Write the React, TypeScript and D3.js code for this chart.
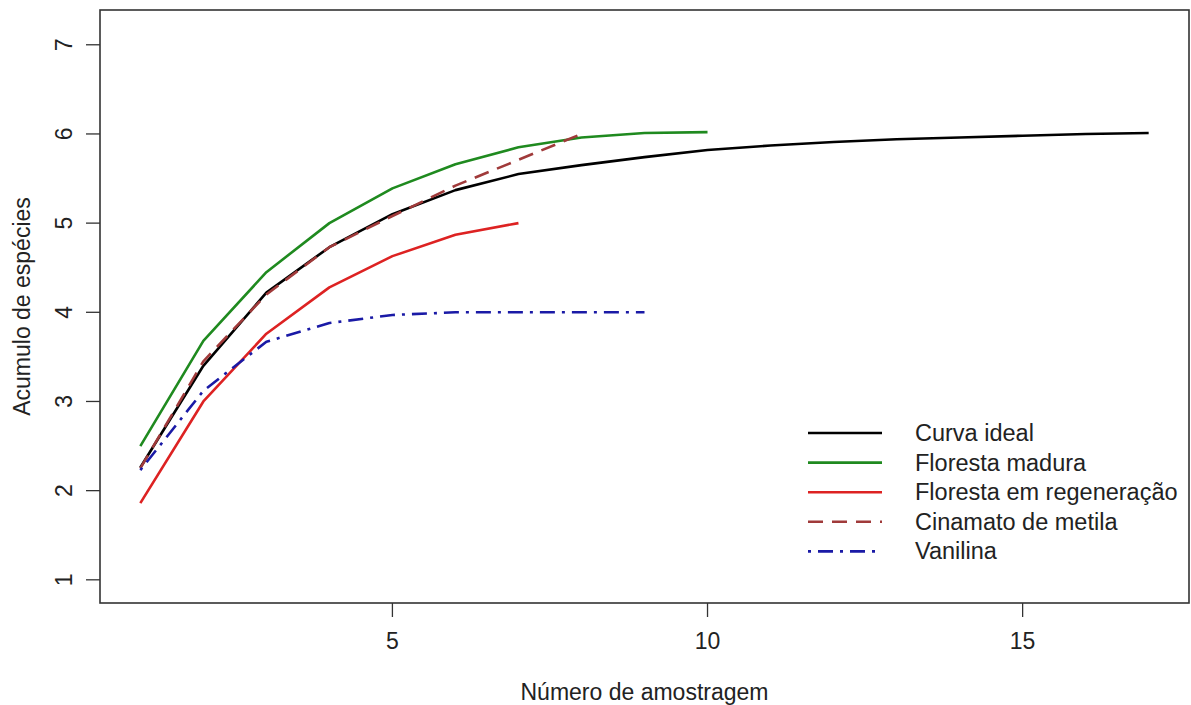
import * as d3 from 'd3';

// Data
const amostras = [1, 2, 3, 4, 5, 6, 7, 8, 9, 10, 11, 12, 13, 14, 15, 16, 17];
const curvaIdeal = [2.26, 3.40, 4.22, 4.73, 5.10, 5.37, 5.55, 5.65, 5.74, 5.82, 5.87, 5.91, 5.94, 5.96, 5.98, 6.00, 6.01];
const florestaMadura = [2.50, 3.68, 4.45, 5.00, 5.39, 5.66, 5.85, 5.96, 6.01, 6.02];
const florestaRegeneracao = [1.86, 3.00, 3.76, 4.28, 4.63, 4.87, 5.00];
const cinamatoMetila = [2.25, 3.45, 4.20, 4.73, 5.08, 5.42, 5.71, 6.00];
const vanilina = [2.23, 3.12, 3.67, 3.88, 3.97, 4.00, 4.00, 4.00, 4.00];

const seriesNames = ['Curva ideal', 'Floresta madura', 'Floresta em regeneração', 'Cinamato de metila', 'Vanilina'];
const seriesColors = ['#000000', '#1f8a1f', '#dd2222', '#a03a3a', '#1a1aa6'];
const seriesDash = [null, null, null, '15,9', '3,7,15,7'];
const seriesValues = [curvaIdeal, florestaMadura, florestaRegeneracao, cinamatoMetila, vanilina];

const xTicks = [5, 10, 15];
const yTicks = [1, 2, 3, 4, 5, 6, 7];

const W = 1191;
const H = 705;
const left = 100, right = 1189, top = 10, bottom = 603;
const FONT = "'Liberation Sans', Arial, Helvetica, sans-serif";

export default function App() {
  const x = d3.scaleLinear().domain([0.36, 17.64]).range([left, right]);
  const y = d3.scaleLinear().domain([0.74, 7.39]).range([bottom, top]);

  const line = d3.line<[number, number]>()
    .x(d => x(d[0]))
    .y(d => y(d[1]));

  const legendX = 808;
  const legendY0 = 433;
  const legendStep = 29.6;

  return (
    <div style={{ position: 'fixed', left: 0, top: 0 }}>
      <svg width={W} height={H} style={{ display: 'block', background: '#fff', fontFamily: FONT }}>
        {/* series */}
        {seriesValues.map((vals, i) => (
          <path
            key={seriesNames[i]}
            d={line(vals.map((v, j) => [amostras[j], v] as [number, number])) || ''}
            fill="none"
            stroke={seriesColors[i]}
            strokeWidth={2.6}
            strokeDasharray={seriesDash[i] || undefined}
            strokeLinejoin="round"
          />
        ))}

        {/* frame */}
        <rect x={left} y={top} width={right - left} height={bottom - top} fill="none" stroke="#333" strokeWidth={1.6} />

        {/* x axis */}
        {xTicks.map(t => (
          <g key={'x' + t}>
            <line x1={x(t)} x2={x(t)} y1={bottom} y2={bottom + 14} stroke="#333" strokeWidth={1.3} />
            <text x={x(t)} y={bottom + 46} textAnchor="middle" fontSize={23} fill="#222">{t}</text>
          </g>
        ))}
        <text x={(left + right) / 2} y={700} textAnchor="middle" fontSize={23} fill="#222">Número de amostragem</text>

        {/* y axis */}
        {yTicks.map(t => (
          <g key={'y' + t}>
            <line x1={left - 14} x2={left} y1={y(t)} y2={y(t)} stroke="#333" strokeWidth={1.3} />
            <text
              transform={`translate(${left - 28},${y(t)}) rotate(-90)`}
              textAnchor="middle"
              fontSize={23}
              fill="#222"
            >{t}</text>
          </g>
        ))}
        <text
          transform={`translate(${30},${(top + bottom) / 2}) rotate(-90)`}
          textAnchor="middle"
          fontSize={23}
          fill="#222"
        >Acumulo de espécies</text>

        {/* legend */}
        {seriesNames.map((name, i) => (
          <g key={'leg' + i} transform={`translate(0,${legendY0 + i * legendStep})`}>
            <line x1={legendX} x2={legendX + 74} y1={0} y2={0}
              stroke={seriesColors[i]} strokeWidth={2.6}
              strokeDasharray={seriesDash[i] || undefined} />
            <text x={915} y={8} fontSize={23.5} fill="#222">{name}</text>
          </g>
        ))}
      </svg>
    </div>
  );
}
